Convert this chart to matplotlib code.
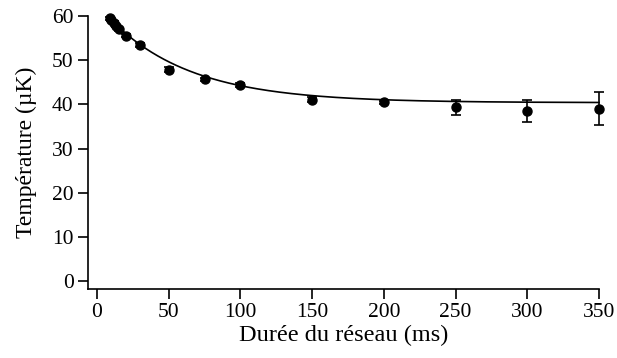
import numpy as np
import matplotlib
matplotlib.use("Agg")
import matplotlib.pyplot as plt

plt.rcParams['font.family'] = ['Liberation Serif', 'DejaVu Serif']

# data
duree = [9, 10, 12, 13.5, 15, 20, 30, 50, 75, 100, 150, 200, 250, 300, 350]
temperature = [59.4, 59.0, 58.4, 57.7, 56.9, 55.5, 53.4, 47.8, 45.6, 44.3, 41.0, 40.4, 39.3, 38.5, 39.0]
erreur = [0.3, 0.3, 0.3, 0.3, 0.3, 0.4, 0.4, 0.5, 0.4, 0.4, 0.6, 0.4, 1.7, 2.4, 3.7]
# exponential fit parameters: T = T_inf + A * exp(-t / tau)
fit_Tinf = 40.35
fit_A = 22.2
fit_tau = 57.0
fit_range = (8, 350)

xticks = [0, 50, 100, 150, 200, 250, 300, 350]
yticks = [0, 10, 20, 30, 40, 50, 60]

fig = plt.figure(figsize=(6.17, 3.58), dpi=100)
W, H = 617, 358
left, right, top, bottom = 88.3, 599, 15.7, 288.7
ax = fig.add_axes([left / W, 1 - bottom / H, (right - left) / W, (bottom - top) / H])

tfit = np.linspace(fit_range[0], fit_range[1], 400)
ax.plot(tfit, fit_Tinf + fit_A * np.exp(-tfit / fit_tau), color='black', lw=1.2,
        zorder=2, clip_on=False)
ax.errorbar(duree, temperature, yerr=erreur, fmt='o', color='black', ms=6.5,
            elinewidth=1.2, capsize=3.3, capthick=1.2, zorder=3, clip_on=False)

ax.set_xlim(-6.1, 350)
ax.set_ylim(-1.67, 60)
ax.set_xticks(xticks)
ax.set_yticks(yticks)
for s in ['top', 'right']:
    ax.spines[s].set_visible(False)
for s in ['left', 'bottom']:
    ax.spines[s].set_linewidth(1.2)
ax.tick_params(direction='out', length=7.5, width=1.2, labelsize=15.5, pad=3)
ax.set_xlabel('Durée du réseau (ms)', fontsize=17.5, labelpad=2)
ax.set_ylabel('Température (µK)', fontsize=17, labelpad=11)

fig.savefig('out.png', dpi=100)
